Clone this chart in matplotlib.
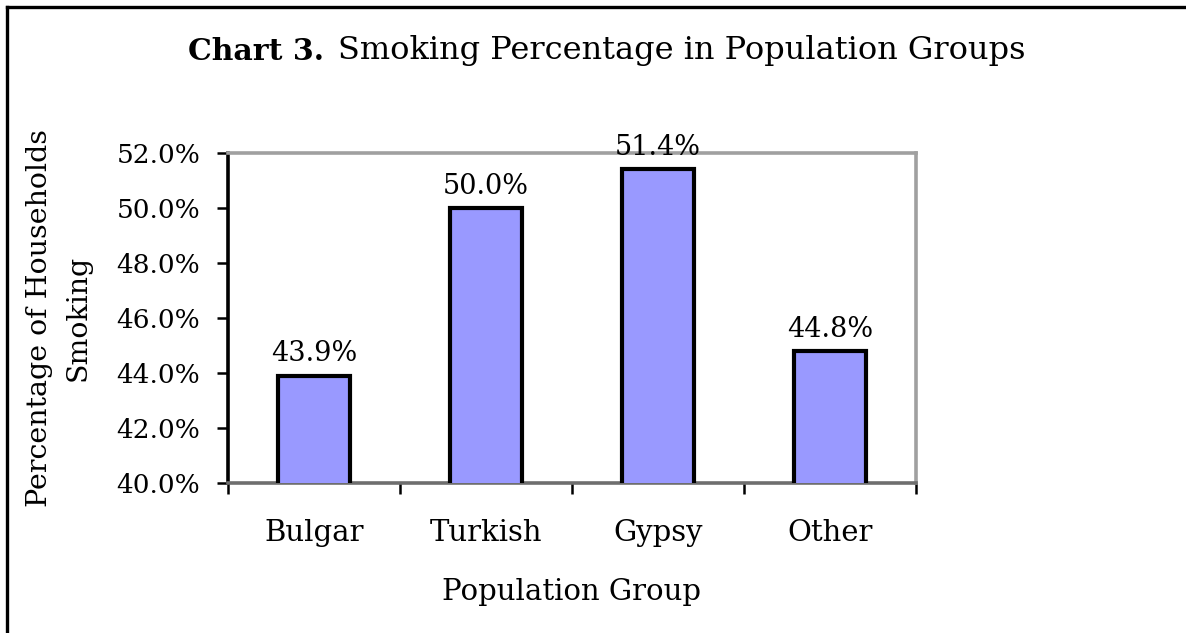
import matplotlib
matplotlib.use("Agg")
import matplotlib.pyplot as plt
from matplotlib.lines import Line2D
from matplotlib.transforms import Bbox

categories = ["Bulgar", "Turkish", "Gypsy", "Other"]
values = [43.9, 50.0, 51.4, 44.8]
yticks = [40.0, 42.0, 44.0, 46.0, 48.0, 50.0, 52.0]

plt.rcParams['font.family'] = ['DejaVu Serif']

fig = plt.figure(figsize=(11.86, 6.33), dpi=100)
ax = fig.add_axes([228/1186, 1-483/633, (916-228)/1186, (483-153)/633])

x = list(range(len(categories)))
ax.bar(x, values, width=0.42, color='#9999ff', edgecolor='black', linewidth=3.0, zorder=3)
ax.set_xlim(-0.5, len(categories) - 0.5)
ax.set_ylim(yticks[0], yticks[-1])
ax.set_yticks(yticks)
ax.set_yticklabels([f"{t:.1f}%" for t in yticks], fontsize=19)
ax.set_xticks([i - 0.5 for i in range(len(categories) + 1)])
ax.set_xticklabels([])
ax.set_xticks(x, minor=True)
ax.set_xticklabels(categories, minor=True, fontsize=21)
ax.tick_params(axis='x', which='minor', length=0, pad=26)
ax.tick_params(axis='x', which='major', length=8, width=1.8, direction='out', color='black')
ax.tick_params(axis='y', length=8, width=1.8, direction='out', pad=12)

for s in ['top', 'right']:
    ax.spines[s].set_color('#a0a0a0')
    ax.spines[s].set_linewidth(2.6)
ax.spines['left'].set_color('black')
ax.spines['left'].set_linewidth(2.6)
ax.spines['bottom'].set_color('#6e6e6e')
ax.spines['bottom'].set_linewidth(2.6)

for xi, v in zip(x, values):
    ax.annotate(f"{v:.1f}%", (xi, v), xytext=(0, 6), textcoords='offset points',
                ha='center', va='bottom', fontsize=19.5, clip_on=False)

ax.set_xlabel("Population Group", fontsize=21, labelpad=22)
yl = ax.set_ylabel("Percentage of Households\nSmoking", fontsize=20.5, labelpad=18, linespacing=1.55)
yl.set_clip_box(Bbox([[0, 0], [1186, 633 - 129]]))
yl.set_clip_on(True)

ty = 1 - 51/633
fig.text(324/1186, ty, "Chart 3.", ha='right', va='center', fontsize=21.5, fontweight='bold')
fig.text(338/1186, ty, "Smoking Percentage in Population Groups", ha='left', va='center', fontsize=23)

fig.add_artist(Line2D([7/1186, 7/1186], [0, 1 - 7/633], transform=fig.transFigure, color='black', linewidth=2.4))
fig.add_artist(Line2D([7/1186, 1], [1 - 7/633, 1 - 7/633], transform=fig.transFigure, color='black', linewidth=2.4))

fig.savefig("out.png", dpi=100, facecolor='white')
